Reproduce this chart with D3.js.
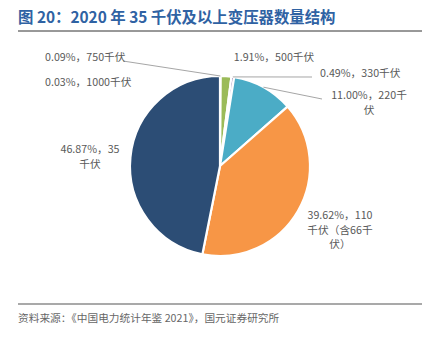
<!DOCTYPE html>
<html>
<head>
<meta charset="utf-8">
<script src="https://cdn.jsdelivr.net/npm/d3@7"></script>
<style>
  body { margin: 0; background: #fff; }
  svg text { font-family: "Noto Sans CJK SC", "Noto Sans", sans-serif; }
</style>
</head>
<body>
<svg id="chart" width="429" height="340"></svg>
<script>
// 数据：2020年35千伏及以上变压器数量结构（%），顺时针自12点起
const categories = ['1000千伏', '750千伏', '500千伏', '330千伏', '220千伏', '110千伏', '35千伏'];
const shares = [0.03, 0.09, 1.91, 0.49, 11.00, 39.62, 46.87];
const notes = ['', '', '', '', '', '（含66千伏）', ''];
const colors = ['#4f81bd', '#c0504d', '#9bbb59', '#8064a2', '#4bacc6', '#f79646', '#2c4d75'];

// 标签布局（位置 + 换行位置）
const labelLayout = [
    {x: 45, y: 86, anchor: 'start', breaks: [], line: null},
    {x: 45, y: 61, anchor: 'start', breaks: [], line: [123, 61]},
    {x: 274, y: 61, anchor: 'middle', breaks: [], line: null},
    {x: 320, y: 77, anchor: 'start', breaks: [], line: [312, 77]},
    {x: 369, y: 99, anchor: 'middle', breaks: [11], line: [322, 99]},
    {x: 340, y: 219, anchor: 'middle', breaks: [10, 17], line: null},
    {x: 90, y: 153, anchor: 'middle', breaks: [9], line: null}
];

const svg = d3.select('#chart');
const cx = 220, cy = 166, r = 90;

//标题
svg.append('text')
    .attr('x', 18).attr('y', 23)
    .attr('fill', '#2f62a3')
    .attr('font-size', 15.4)
    .attr('font-weight', 'bold')
    .text('图 20：2020 年 35 千伏及以上变压器数量结构');
svg.append('line')
    .attr('x1', 18).attr('x2', 422).attr('y1', 31).attr('y2', 31)
    .attr('stroke', '#333').attr('stroke-width', 1);

//饼图
let pie = d3.pie().sort(null).value(d => d)(shares);
let arc = d3.arc().innerRadius(0).outerRadius(r);

let g = svg.append('g').attr('transform', `translate(${cx},${cy})`);
g.selectAll('path')
    .data(pie)
    .enter()
    .append('path')
    .attr('d', arc)
    .attr('fill', (d, i) => colors[i])
    .attr('stroke', '#fff')
    .attr('stroke-width', 2.2)
    .attr('stroke-linejoin', 'round');

//引导线
let lines = svg.append('g').attr('class', 'leader');
pie.forEach(function(d, i){
    let lay = labelLayout[i];
    if (!lay.line) return;
    let a = (d.startAngle + d.endAngle) / 2;
    let px = cx + Math.sin(a) * r, py = cy - Math.cos(a) * r;
    lines.append('line')
        .attr('x1', px).attr('y1', py)
        .attr('x2', lay.line[0]).attr('y2', lay.line[1])
        .attr('stroke', '#a6a6a6')
        .attr('stroke-width', 1);
});

//数据标签
let labels = svg.append('g').attr('class', 'labels');
shares.forEach(function(v, i){
    let lay = labelLayout[i];
    let full = `${v.toFixed(2)}%，${categories[i]}${notes[i]}`;
    let parts = [], prev = 0;
    lay.breaks.forEach(function(b){ parts.push(full.slice(prev, b)); prev = b; });
    parts.push(full.slice(prev));
    let t = labels.append('text')
        .attr('x', lay.x).attr('y', lay.y)
        .attr('text-anchor', lay.anchor)
        .attr('font-size', 10.7)
        .attr('fill', '#595959');
    parts.forEach(function(p, k){
        t.append('tspan')
            .attr('x', lay.x)
            .attr('dy', k === 0 ? 0 : 14.5)
            .text(p);
    });
});

//资料来源
svg.append('line')
    .attr('x1', 18).attr('x2', 422).attr('y1', 304).attr('y2', 304)
    .attr('stroke', '#8c8c8c').attr('stroke-width', 1.5);
svg.append('text')
    .attr('x', 18).attr('y', 322)
    .attr('font-size', 10.7)
    .attr('fill', '#666')
    .text('资料来源：《中国电力统计年鉴 2021》，国元证券研究所');
</script>
</body>
</html>
